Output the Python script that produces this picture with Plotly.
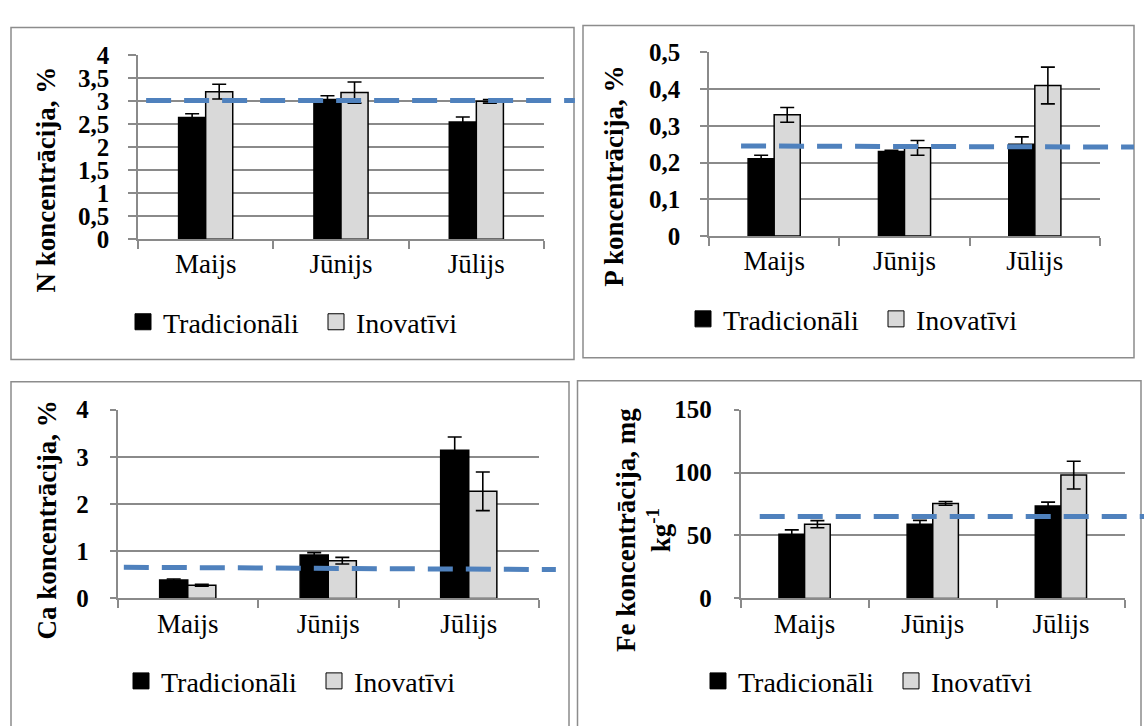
import plotly.graph_objects as go

W, H = 1144, 726

months = ["Maijs", "Jūnijs", "Jūlijs"]
series_names = ["Tradicionāli", "Inovatīvi"]

# N, %
n_trad = [2.65, 3.04, 2.55]
n_trad_err = [0.08, 0.08, 0.11]
n_inov = [3.21, 3.19, 3.00]
n_inov_err = [0.16, 0.23, 0.04]
n_ref = [3.02, 3.02]

# P, %
p_trad = [0.21, 0.23, 0.25]
p_trad_err = [0.01, 0.003, 0.02]
p_inov = [0.33, 0.24, 0.41]
p_inov_err = [0.02, 0.02, 0.05]
p_ref = [0.245, 0.242]

# Ca, %
ca_trad = [0.39, 0.92, 3.14]
ca_trad_err = [0.02, 0.05, 0.28]
ca_inov = [0.28, 0.80, 2.27]
ca_inov_err = [0.02, 0.07, 0.41]
ca_ref = [0.66, 0.61]

# Fe, mg kg-1
fe_trad = [51, 59, 73.5]
fe_trad_err = [3.5, 3, 3]
fe_inov = [59, 75.5, 98]
fe_inov_err = [2.8, 1.5, 11]
fe_ref = [65, 65]

FONT = "Liberation Serif"
GRID = "#8a8a8a"
BORDER = "#8c8c8c"
BLUE = "#4f81bd"
COLORS = ["#000000", "#d9d9d9"]


def fx(px):
    return px / W


def fy(py):
    return 1 - py / H


panels = [
    dict(trad=n_trad, trad_err=n_trad_err, inov=n_inov, inov_err=n_inov_err, ref=n_ref,
         rng=[0, 4], dtick=0.5, plot=(138, 544, 44, 235), box=(11, 15, 574, 360),
         title="N koncentrācija, %", title_xy=(46, 173), legend_xy=(123, 321),
         ref_x=(0.02, 1.076), ticklen=8),
    dict(trad=p_trad, trad_err=p_trad_err, inov=p_inov, inov_err=p_inov_err, ref=p_ref,
         rng=[0, 0.5], dtick=0.1, plot=(709, 1100, 41, 231.5), box=(583, 13, 1134, 358),
         title="P koncentrācija, %", title_xy=(614, 170), legend_xy=(683, 318),
         ref_x=(0.082, 1.087), ticklen=7),
    dict(trad=ca_trad, trad_err=ca_trad_err, inov=ca_inov, inov_err=ca_inov_err, ref=ca_ref,
         rng=[0, 4], dtick=1, plot=(117.5, 539, 412, 608), box=(11, 383, 569, 760),
         title="Ca koncentrācija, %", title_xy=(47, 527), legend_xy=(121, 694),
         ref_x=(0.015, 1.04), ticklen=6),
    dict(trad=fe_trad, trad_err=fe_trad_err, inov=fe_inov, inov_err=fe_inov_err, ref=fe_ref,
         rng=[0, 150], dtick=50, plot=(740.5, 1125, 412, 608), box=(577.5, 382, 1141, 760),
         title="Fe koncentrācija, mg<br>kg<sup>-1</sup>", title_xy=(643, 537), legend_xy=(698, 694),
         ref_x=(0.05, 1.05), ticklen=5),
]

fig = go.Figure()
shapes = []
annotations = []
layout = {}

for i, p in enumerate(panels, start=1):
    sfx = "" if i == 1 else str(i)
    xa, ya = "x" + sfx, "y" + sfx
    leg = "legend" + sfx
    for k, (vals, errs) in enumerate([(p["trad"], p["trad_err"]), (p["inov"], p["inov_err"])]):
        fig.add_trace(go.Bar(
            x=months, y=vals, name=series_names[k], xaxis=xa, yaxis=ya, showlegend=False,
            marker=dict(color=COLORS[k], line=dict(color="#000000", width=1.5)),
            error_y=dict(type="data", array=errs, visible=True, color="#000000",
                         thickness=1.6, width=7),
        ))
        # legend entry with a larger square key, as in the reference
        fig.add_trace(go.Scatter(
            x=[None], y=[None], name=series_names[k], xaxis=xa, yaxis=ya, legend=leg,
            mode="markers",
            marker=dict(symbol="square", size=16, color=COLORS[k],
                        line=dict(color="#000000", width=1)),
        ))
    x0, x1, y0, y1 = p["plot"]
    layout["xaxis" + sfx] = dict(
        domain=[fx(x0), fx(x1)], anchor=ya, type="category",
        showline=True, linecolor=GRID, linewidth=1.5,
        ticks="outside", tickson="boundaries", ticklen=8, tickcolor=GRID, tickwidth=1.5,
        tickfont=dict(family=FONT, size=27, color="#000000"),
        showgrid=False, fixedrange=True,
    )
    layout["yaxis" + sfx] = dict(
        domain=[fy(y1), fy(y0)], anchor=xa, range=p["rng"], dtick=p["dtick"],
        showline=True, linecolor=GRID, linewidth=1.5,
        ticks="outside", ticklen=p["ticklen"], tickcolor=GRID, tickwidth=1.5,
        ticklabelstandoff=22 - p["ticklen"],
        showgrid=True, gridcolor=GRID, gridwidth=1.5, zeroline=False,
        tickfont=dict(family=FONT, size=25, color="#000000", weight="bold"),
        fixedrange=True,
    )
    lx, ly = p["legend_xy"]
    layout[leg] = dict(
        orientation="h", x=fx(lx), y=fy(ly), xanchor="left", yanchor="middle",
        font=dict(family=FONT, size=28, color="#000000"),
        bgcolor="rgba(0,0,0,0)", itemwidth=30, traceorder="normal", itemsizing="trace",
        entrywidth=148, entrywidthmode="pixels",
        itemclick=False, itemdoubleclick=False,
    )
    bx0, by0, bx1, by1 = p["box"]
    shapes.append(dict(type="rect", xref="paper", yref="paper",
                       x0=fx(bx0), x1=fx(bx1), y0=fy(by1), y1=fy(by0),
                       line=dict(color=BORDER, width=1.5), layer="below"))
    shapes.append(dict(type="line", xref=xa + " domain", yref=ya,
                       x0=p["ref_x"][0], x1=p["ref_x"][1], y0=p["ref"][0], y1=p["ref"][1],
                       line=dict(color=BLUE, width=5, dash="25px,13px"), layer="above"))
    tx, ty = p["title_xy"]
    annotations.append(dict(text=p["title"], xref="paper", yref="paper",
                            x=fx(tx), y=fy(ty), xanchor="center", yanchor="middle",
                            textangle=-90, showarrow=False,
                            font=dict(family=FONT, size=27, color="#000000", weight="bold")))

fig.update_layout(
    width=W, height=H, margin=dict(l=0, r=0, t=0, b=0),
    paper_bgcolor="#ffffff", plot_bgcolor="rgba(0,0,0,0)",
    barmode="group", bargap=0.6, bargroupgap=0,
    separators=", ",
    shapes=shapes, annotations=annotations,
    **layout,
)

fig.write_html("out.html")
